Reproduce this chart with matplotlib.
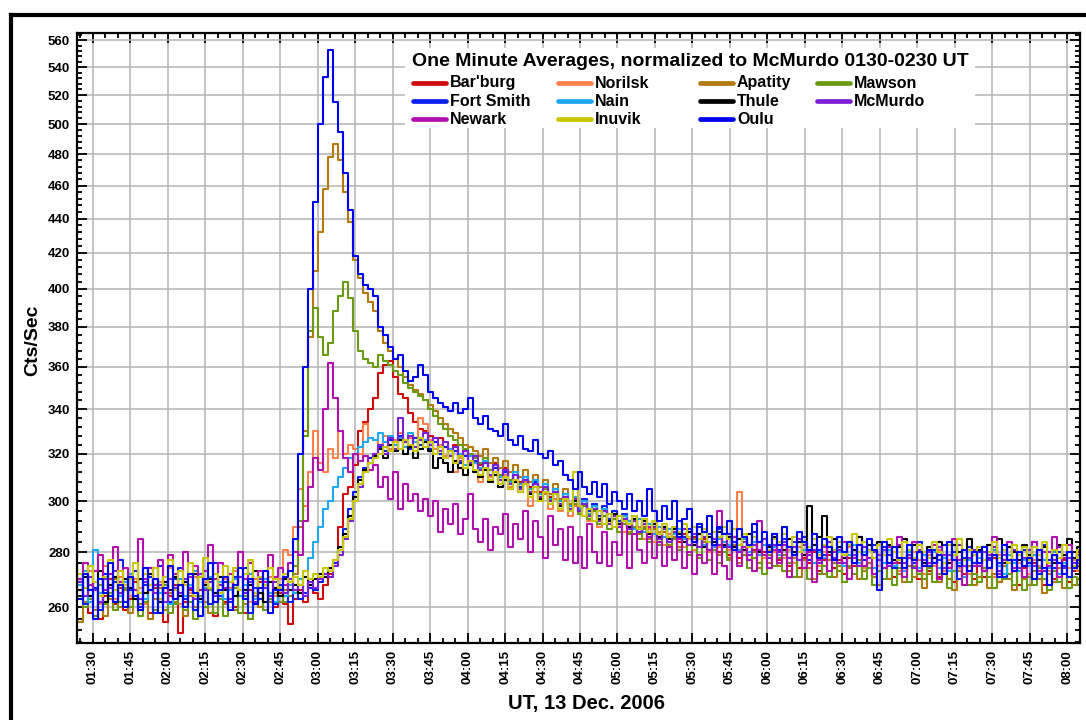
import numpy as np
import matplotlib
matplotlib.use("Agg")
import matplotlib.pyplot as plt
from matplotlib.ticker import FixedLocator, FuncFormatter, NullFormatter
from matplotlib.lines import Line2D
from matplotlib.patches import Rectangle

plt.rcParams['font.family'] = ['Liberation Sans', 'DejaVu Sans']
plt.rcParams['font.weight'] = 'bold'

# counting rates (Cts/Sec), 2 minute steps from 01:24 UT
t_start = 84   # minutes after 00:00 UT
t_step = 2

barburg = [
    268, 262, 258, 266, 256, 264, 270, 261, 267, 259,
    263, 269, 260, 265, 258, 267, 262, 255, 264, 268,
    251, 262, 266, 259, 264, 270, 261, 257, 265, 262,
    267, 260, 264, 258, 266, 261, 269, 259, 263, 260,
    265, 261, 254, 263, 266, 262, 268, 265, 263, 268,
    272, 276, 290, 303, 306, 315, 330, 334, 340, 345,
    357, 361, 363, 355, 347, 345, 338, 334, 331, 330,
    328, 325, 327, 323, 321, 324, 319, 321, 317, 316,
    315, 318, 313, 316, 311, 314, 309, 312, 308, 310,
    306, 309, 304, 307, 302, 305, 300, 303, 299, 301,
    297, 300, 295, 298, 294, 296, 292, 295, 291, 294,
    290, 293, 289, 291, 287, 290, 286, 289, 285, 288,
    284, 287, 283, 286, 282, 285, 281, 284, 280, 283,
    279, 283, 278, 282, 277, 281, 276, 280, 278, 282,
    277, 281, 275, 279, 274, 278, 276, 280, 273, 277,
    279, 274, 277, 272, 278, 275, 280, 273, 276, 271,
    277, 274, 279, 271, 276, 273, 278, 275, 270, 276,
    273, 278, 271, 276, 274, 269, 277, 272, 275, 270,
    276, 271, 274, 278, 269, 275, 272, 277, 268, 274,
    271, 276, 273, 268, 275, 270, 274, 277, 269, 273,
    275, 270]

norilsk = [
    270, 264, 273, 266, 261, 275, 268, 263, 271, 266,
    264, 270, 267, 261, 272, 265, 269, 262, 274, 267,
    261, 268, 265, 271, 263, 269, 266, 272, 264, 270,
    267, 273, 280, 266, 262, 270, 265, 268, 271, 264,
    270, 281, 279, 290, 305, 298, 312, 330, 316, 312,
    322, 318, 330, 320, 324, 322, 320, 333, 327, 326,
    324, 328, 322, 326, 329, 325, 327, 323, 336, 333,
    326, 322, 324, 319, 321, 312, 318, 315, 320, 316,
    308, 313, 310, 314, 307, 311, 306, 309, 304, 308,
    298, 304, 300, 303, 297, 301, 296, 300, 294, 298,
    295, 299, 292, 296, 290, 294, 289, 293, 291, 288,
    292, 287, 290, 285, 289, 284, 288, 283, 287, 285,
    286, 282, 285, 281, 287, 283, 280, 285, 282, 284,
    281, 284, 304, 279, 283, 280, 284, 278, 282, 280,
    283, 278, 281, 276, 282, 279, 277, 281, 275, 280,
    277, 281, 275, 279, 282, 276, 280, 274, 278, 281,
    275, 279, 276, 282, 273, 278, 275, 280, 277, 272,
    279, 275, 281, 273, 277, 280, 274, 278, 272, 276,
    280, 274, 277, 271, 279, 275, 282, 273, 276, 278,
    272, 277, 275, 280, 273, 276, 271, 279, 274, 277,
    273, 278]

apatity = [
    255, 262, 268, 259, 265, 257, 263, 270, 260, 266,
    258, 264, 261, 269, 256, 263, 267, 259, 265, 262,
    268, 257, 264, 260, 266, 262, 258, 265, 269, 261,
    263, 259, 266, 261, 256, 264, 260, 267, 262, 265,
    262, 266, 264, 272, 290, 330, 375, 410, 432, 458,
    478, 487, 476, 456, 438, 416, 406, 398, 393, 388,
    378, 372, 368, 364, 360, 355, 351, 349, 347, 344,
    342, 339, 336, 333, 331, 329, 327, 324, 323, 321,
    319, 322, 316, 318, 314, 317, 312, 315, 310, 313,
    308, 311, 306, 309, 303, 307, 301, 305, 299, 302,
    298, 301, 295, 299, 293, 297, 291, 295, 290, 293,
    288, 292, 287, 290, 285, 289, 284, 288, 283, 286,
    282, 286, 280, 285, 279, 284, 277, 283, 279, 282,
    278, 283, 276, 281, 277, 280, 274, 279, 276, 281,
    275, 279, 273, 278, 271, 277, 274, 270, 276, 272,
    277, 271, 275, 269, 274, 278, 270, 273, 276, 271,
    268, 274, 270, 276, 272, 269, 275, 271, 273, 267,
    272, 276, 269, 274, 270, 266, 273, 271, 275, 268,
    271, 274, 267, 272, 269, 275, 270, 266, 273, 270,
    268, 273, 270, 265, 272, 269, 274, 267, 271, 268,
    270, 266]

mawson = [
    266, 260, 263, 257, 268, 261, 265, 259, 262, 267,
    260, 264, 257, 262, 266, 259, 263, 268, 258, 261,
    265, 259, 262, 256, 264, 260, 266, 258, 263, 257,
    262, 267, 258, 264, 256, 261, 265, 259, 263, 266,
    264, 262, 268, 275, 292, 328, 378, 390, 375, 366,
    372, 388, 396, 404, 395, 378, 368, 364, 362, 360,
    366, 363, 361, 358, 356, 352, 350, 348, 346, 344,
    340, 337, 333, 331, 328, 326, 324, 322, 320, 318,
    316, 318, 313, 315, 311, 313, 309, 311, 307, 309,
    305, 307, 302, 305, 300, 303, 298, 301, 297, 299,
    295, 298, 293, 296, 291, 294, 289, 293, 288, 291,
    287, 290, 285, 289, 284, 287, 283, 286, 282, 285,
    281, 284, 279, 283, 278, 282, 277, 281, 276, 280,
    277, 281, 275, 279, 274, 278, 276, 272, 279, 275,
    278, 273, 276, 271, 277, 274, 270, 276, 272, 275,
    271, 276, 273, 269, 275, 272, 277, 270, 274, 268,
    273, 270, 276, 268, 274, 271, 269, 275, 272, 270,
    274, 269, 272, 276, 267, 273, 270, 275, 268, 272,
    269, 274, 271, 267, 275, 270, 272, 268, 274, 266,
    271, 268, 274, 270, 266, 273, 269, 272, 267, 271,
    268, 272]

fort_smith = [
    270, 261, 275, 267, 259, 272, 264, 269, 277, 262,
    266, 273, 260, 268, 271, 258, 275, 265, 262, 270,
    274, 263, 267, 259, 272, 268, 261, 276, 264, 269,
    262, 271, 266, 274, 258, 267, 263, 270, 265, 261,
    268, 264, 262, 266, 263, 265, 267, 266, 269, 271,
    273, 276, 281, 289, 297, 304, 310, 314, 318, 320,
    323, 321, 326, 324, 328, 325, 322, 327, 324, 326,
    322, 325, 320, 323, 319, 321, 316, 319, 315, 317,
    313, 316, 311, 314, 309, 312, 308, 311, 306, 309,
    305, 308, 303, 306, 301, 304, 300, 303, 298, 301,
    297, 301, 296, 299, 294, 298, 293, 296, 292, 295,
    291, 294, 289, 293, 288, 291, 287, 290, 286, 289,
    292, 286, 289, 284, 290, 283, 287, 285, 289, 282,
    287, 284, 280, 286, 282, 288, 279, 285, 283, 287,
    281, 285, 278, 284, 280, 286, 277, 283, 281, 279,
    284, 278, 282, 276, 283, 279, 286, 277, 281, 283,
    277, 282, 279, 274, 283, 278, 281, 276, 284, 279,
    275, 281, 277, 283, 274, 280, 270, 278, 282, 276,
    280, 273, 278, 284, 276, 271, 282, 277, 274, 281,
    276, 279, 272, 283, 277, 274, 280, 275, 271, 278,
    281, 275]

nain = [
    268, 273, 262, 281, 265, 270, 267, 271, 264, 269,
    272, 266, 270, 263, 268, 274, 265, 269, 261, 267,
    270, 264, 268, 273, 262, 267, 271, 265, 269, 263,
    266, 270, 264, 268, 272, 263, 267, 270, 265, 262,
    266, 264, 268, 265, 270, 273, 278, 284, 290, 297,
    300, 306, 310, 314, 318, 320, 323, 325, 327, 326,
    329, 325, 328, 324, 327, 323, 329, 325, 322, 326,
    324, 320, 323, 318, 322, 317, 320, 315, 319, 316,
    314, 317, 311, 315, 310, 313, 308, 312, 307, 310,
    305, 309, 303, 307, 301, 305, 300, 303, 298, 302,
    297, 300, 295, 298, 293, 297, 292, 295, 291, 294,
    292, 289, 293, 288, 291, 287, 290, 286, 289, 287,
    289, 285, 288, 284, 287, 283, 286, 282, 285, 284,
    283, 286, 281, 285, 280, 284, 279, 283, 281, 282,
    279, 283, 278, 282, 277, 281, 279, 276, 280, 278,
    282, 277, 280, 275, 279, 283, 276, 280, 278, 274,
    279, 276, 281, 275, 278, 273, 280, 277, 274, 279,
    276, 280, 274, 278, 273, 279, 276, 271, 277, 275,
    278, 273, 277, 281, 275, 272, 279, 276, 273, 277,
    275, 279, 273, 277, 274, 280, 272, 276, 278, 274,
    276, 273]

thule = [
    266, 271, 264, 269, 273, 262, 268, 271, 265, 270,
    267, 263, 270, 265, 272, 268, 262, 269, 266, 271,
    264, 269, 267, 272, 263, 268, 270, 265, 271, 266,
    269, 264, 271, 266, 268, 273, 265, 262, 269, 267,
    264, 270, 266, 268, 265, 271, 268, 270, 272, 271,
    274, 277, 282, 287, 294, 302, 309, 313, 316, 319,
    322, 318, 324, 321, 326, 320, 323, 318, 322, 325,
    321, 314, 318, 316, 312, 317, 314, 311, 315, 312,
    310, 313, 308, 311, 306, 309, 305, 308, 304, 307,
    303, 306, 301, 304, 300, 303, 298, 301, 297, 300,
    296, 299, 294, 297, 293, 296, 292, 295, 291, 293,
    290, 293, 288, 292, 287, 291, 286, 290, 285, 289,
    287, 284, 288, 283, 287, 282, 286, 284, 288, 283,
    286, 282, 285, 281, 287, 283, 280, 285, 282, 286,
    283, 281, 285, 280, 284, 279, 298, 283, 286, 294,
    280, 285, 282, 278, 284, 281, 286, 279, 283, 280,
    284, 279, 283, 277, 282, 285, 278, 283, 280, 276,
    282, 278, 284, 279, 276, 283, 280, 277, 285, 279,
    281, 277, 283, 279, 285, 276, 282, 280, 277, 283,
    279, 284, 277, 282, 280, 276, 283, 279, 285, 278,
    282, 279]

mcmurdo = [
    269, 264, 271, 266, 262, 270, 267, 273, 265, 268,
    271, 266, 263, 269, 274, 265, 268, 262, 270, 267,
    265, 270, 267, 263, 272, 266, 269, 264, 268, 271,
    263, 268, 271, 265, 269, 262, 270, 267, 264, 269,
    267, 265, 270, 266, 268, 264, 269, 267, 270, 272,
    271, 275, 279, 285, 292, 300, 306, 312, 316, 320,
    324, 320, 327, 322, 336, 325, 328, 323, 326, 329,
    324, 327, 321, 325, 319, 323, 317, 321, 316, 319,
    313, 316, 311, 315, 309, 313, 307, 311, 305, 309,
    304, 307, 302, 306, 300, 304, 299, 302, 297, 301,
    296, 299, 294, 297, 292, 296, 291, 294, 290, 293,
    289, 292, 288, 291, 286, 290, 285, 289, 284, 288,
    285, 289, 283, 287, 282, 286, 281, 285, 283, 287,
    282, 286, 280, 284, 279, 283, 281, 285, 278, 283,
    280, 284, 278, 282, 277, 283, 279, 281, 276, 282,
    284, 278, 281, 276, 283, 279, 275, 282, 278, 280,
    277, 281, 275, 280, 283, 276, 279, 274, 281, 277,
    280, 276, 282, 274, 279, 277, 283, 275, 278, 281,
    275, 280, 277, 282, 273, 279, 276, 281, 274, 278,
    281, 275, 279, 273, 280, 277, 282, 274, 278, 276,
    279, 275]

newark = [
    270, 276, 268, 273, 279, 266, 272, 282, 269, 274,
    271, 266, 285, 270, 274, 268, 277, 265, 279, 272,
    268, 280, 271, 275, 266, 273, 283, 270, 276, 267,
    272, 268, 280, 270, 276, 265, 273, 269, 279, 271,
    274, 268, 276, 280, 279, 292, 306, 318, 313, 340,
    362, 345, 330, 318, 312, 320, 317, 319, 313, 315,
    306, 310, 301, 312, 297, 307, 300, 303, 296, 301,
    294, 300, 288, 297, 291, 299, 287, 293, 303, 289,
    284, 293, 281, 290, 287, 295, 282, 291, 285, 296,
    280, 292, 286, 278, 294, 283, 289, 277, 290, 276,
    286, 274, 291, 280, 276, 288, 275, 284, 279, 292,
    274, 287, 281, 276, 290, 278, 284, 275, 282, 277,
    285, 274, 280, 272, 279, 276, 281, 272, 296, 275,
    270, 286, 275, 282, 277, 273, 292, 279, 274, 281,
    276, 283, 271, 279, 285, 274, 280, 269, 277, 282,
    273, 280, 276, 284, 270, 278, 283, 275, 281, 272,
    279, 274, 282, 276, 286, 271, 278, 284, 273, 280,
    276, 283, 270, 279, 274, 285, 277, 268, 281, 275,
    282, 273, 279, 286, 272, 277, 284, 274, 280, 271,
    277, 284, 273, 280, 275, 286, 271, 278, 283, 274,
    280, 287]

inuvik = [
    272, 267, 275, 269, 264, 271, 277, 266, 273, 268,
    270, 276, 265, 272, 268, 274, 263, 271, 277, 266,
    273, 268, 276, 264, 271, 278, 267, 272, 265, 275,
    269, 274, 266, 272, 277, 265, 271, 268, 274, 270,
    267, 272, 269, 271, 268, 273, 270, 272, 271, 274,
    273, 277, 281, 286, 293, 300, 307, 312, 316, 318,
    320, 323, 321, 325, 322, 326, 324, 321, 327, 323,
    325, 320, 323, 318, 321, 316, 319, 314, 317, 313,
    311, 314, 309, 312, 307, 310, 305, 309, 304, 307,
    302, 306, 300, 304, 299, 303, 297, 301, 296, 312,
    298, 294, 297, 292, 296, 291, 295, 290, 294, 292,
    291, 294, 289, 293, 288, 292, 287, 291, 286, 290,
    288, 291, 286, 290, 285, 289, 284, 288, 286, 290,
    285, 289, 283, 287, 282, 286, 284, 288, 281, 285,
    284, 287, 282, 286, 280, 284, 282, 285, 279, 283,
    286, 281, 284, 279, 283, 287, 280, 284, 281, 278,
    283, 279, 285, 280, 277, 284, 281, 278, 283, 280,
    278, 284, 280, 276, 283, 279, 285, 277, 281, 279,
    282, 277, 280, 284, 278, 281, 276, 283, 279, 282,
    277, 282, 279, 284, 276, 281, 278, 283, 280, 275,
    281, 278]

oulu = [
    263, 272, 266, 256, 270, 265, 276, 262, 268, 260,
    271, 264, 259, 274, 266, 270, 258, 267, 275, 263,
    268, 260, 272, 265, 257, 270, 276, 262, 266, 271,
    259, 268, 274, 263, 270, 261, 267, 273, 258, 266,
    266, 271, 273, 285, 320, 360, 400, 450, 500, 533,
    553, 515, 495, 468, 445, 418, 408, 402, 400, 396,
    380, 376, 370, 364, 366, 358, 353, 355, 361, 356,
    348, 345, 343, 341, 339, 343, 338, 340, 345, 336,
    333, 337, 331, 330, 328, 333, 326, 324, 328, 322,
    321, 326, 320, 318, 321, 315, 317, 311, 309, 305,
    312, 306, 303, 308, 302, 307, 299, 304, 300, 297,
    303, 296, 300, 294, 305, 296, 292, 298, 293, 300,
    286, 293, 297, 284, 291, 288, 294, 283, 290, 287,
    292, 281, 289, 286, 283, 291, 284, 288, 280, 287,
    283, 290, 282, 279, 288, 284, 281, 287, 278, 285,
    282, 277, 286, 280, 284, 276, 283, 279, 285, 281,
    266, 284, 276, 282, 278, 274, 283, 277, 280, 275,
    281, 276, 279, 272, 284, 277, 275, 281, 273, 280,
    276, 282, 274, 279, 271, 283, 277, 273, 280, 275,
    278, 270, 281, 274, 268, 279, 276, 272, 280, 274,
    277, 271]

stations = ["Bar'burg", "Norilsk", "Apatity", "Mawson",
            "Fort Smith", "Nain", "Thule", "McMurdo",
            "Newark", "Inuvik", "Oulu"]
colors = ["#d00a0a", "#ff8048", "#b27a0c", "#6a9a10",
          "#0c1ef0", "#1ca8f0", "#000000", "#7c1ed6",
          "#b010b0", "#c8c800", "#0000f0"]
series = [barburg, norilsk, apatity, mawson,
          fort_smith, nain, thule, mcmurdo,
          newark, inuvik, oulu]

W, H = 1086, 720
fig = plt.figure(figsize=(W / 100, H / 100), dpi=100)


def fx(px):
    return px / W


def fy(py):
    return 1 - py / H


ax = fig.add_axes([fx(77), fy(643), (1080 - 77) / W, (643 - 33) / H])

for name, color, vals in zip(stations, colors, series):
    minutes = t_start + t_step * np.arange(len(vals))
    ax.plot(minutes, vals, drawstyle='steps-post', color=color, lw=1.5, label=name)

ax.set_yscale('log')
ax.set_ylim(247.7, 565.6)
ax.set_xlim(83.6, 485.2)

ax.yaxis.set_major_locator(FixedLocator(list(range(260, 561, 20))))
ax.yaxis.set_minor_locator(FixedLocator([v for v in range(248, 568, 4) if v % 20 != 0]))
ax.yaxis.set_major_formatter(FuncFormatter(lambda v, p: f"{v:.0f}"))
ax.yaxis.set_minor_formatter(NullFormatter())

ax.xaxis.set_major_locator(FixedLocator(list(range(90, 486, 15))))
ax.xaxis.set_minor_locator(FixedLocator(list(range(85, 486, 5))))
ax.xaxis.set_major_formatter(FuncFormatter(lambda v, p: f"{int(v) // 60:02d}:{int(v) % 60:02d}"))

ax.tick_params(which='both', direction='in', top=True, right=True, width=1.3, colors='black')
ax.tick_params(which='major', length=7, labelsize=9.5)
ax.tick_params(axis='x', which='major', pad=5, labelrotation=90)
ax.tick_params(axis='y', which='major', pad=5)
ax.tick_params(which='minor', length=3.5)
for lab in ax.get_xticklabels() + ax.get_yticklabels():
    lab.set_fontweight('bold')

for sp in ax.spines.values():
    sp.set_linewidth(1.6)

ax.grid(True, which='major', color='#b4b4b4', lw=1.1)
ax.set_axisbelow(True)

fig.text(fx(33), fy(340), "Cts/Sec", rotation=90, ha='center', va='center',
         fontsize=14, fontweight='bold')
fig.text(fx(586), fy(704), "UT, 13 Dec. 2006", ha='center', va='center',
         fontsize=14.5, fontweight='bold')

# legend block: white panel, bold title and four columns of entries
fig.add_artist(Rectangle((fx(405), fy(128)), (975 - 405) / W, (128 - 48) / H,
                         transform=fig.transFigure, facecolor='white',
                         edgecolor='none', zorder=2))
fig.text(fx(412), fy(62), "One Minute Averages, normalized to McMurdo 0130-0230 UT",
         ha='left', va='center', fontsize=14, fontweight='bold', zorder=3)
col_x = [413, 558, 700, 817]
row_y = [83, 101, 119]
for k, (name, color) in enumerate(zip(stations, colors)):
    x0 = col_x[k % 4]
    y0 = row_y[k // 4]
    fig.add_artist(Line2D([fx(x0), fx(x0 + 33)], [fy(y0), fy(y0)],
                          transform=fig.transFigure, color=color, lw=3.4,
                          solid_capstyle='round', zorder=3))
    fig.text(fx(x0 + 37), fy(y0), name, ha='left', va='center',
             fontsize=11.5, fontweight='bold', zorder=3)

# heavy frame along the top and left edges
fig.add_artist(Line2D([fx(11), fx(11)], [fy(15), 0], transform=fig.transFigure,
                      color='black', lw=3, solid_capstyle='projecting'))
fig.add_artist(Line2D([fx(11), 1], [fy(15), fy(15)], transform=fig.transFigure,
                      color='black', lw=3, solid_capstyle='projecting'))

fig.savefig("out.png", dpi=100)
